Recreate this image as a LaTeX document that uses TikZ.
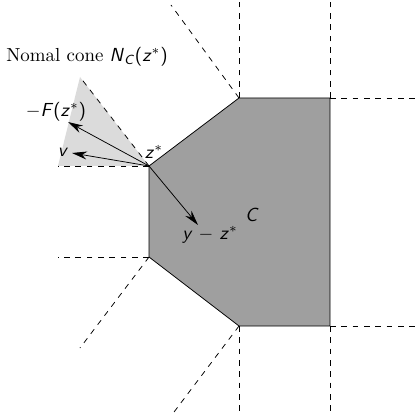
\documentclass[tikz,border=0pt]{standalone}
\usepackage{amsmath}
\usetikzlibrary{arrows.meta}
\newcommand{\sfit}[1]{\textsf{\textit{#1}}}

\begin{document}
\begin{tikzpicture}[
    x=0.0186cm, y=-0.0186cm,
    ray/.style={dashed},
    vec/.style={-{Stealth[length=2.8mm,width=1.5mm]}},
    lbl/.style={inner sep=1pt}
]
\useasboundingbox (0,0) rectangle (420,416);
% corners of C
\coordinate (zs) at (149,166);
\coordinate (tl) at (239,98);
\coordinate (tr) at (330,98);
\coordinate (br) at (330,326);
\coordinate (bl) at (239,326);
\coordinate (lb) at (149,257);
% normal cone at z*
\fill[gray!28] (zs) -- (58,166) -- (80,77) -- cycle;
\filldraw[fill=gray!75, draw=black] (zs) -- (tl) -- (tr) -- (br) -- (bl) -- (lb) -- cycle;
% normal rays
\draw[ray] (zs) -- (58,166);
\draw[ray] (zs) -- (80,77);
\draw[ray] (tl) -- (171,5);
\draw[ray] (tl) -- (239,0);
\draw[ray] (tr) -- (330,0);
\draw[ray] (tr) -- (420,98);
\draw[ray] (br) -- (420,326);
\draw[ray] (br) -- (330,416);
\draw[ray] (bl) -- (239,416);
\draw[ray] (bl) -- (171,416);
\draw[ray] (lb) -- (80,348);
\draw[ray] (lb) -- (58,257);
% vectors
\coordinate (mF) at (68,122);
\coordinate (v) at (72,153);
\coordinate (yz) at (198,225);
\draw[vec] (zs) -- (mF);
\draw[vec] (zs) -- (v);
\draw[vec] (zs) -- (yz);
% labels
\node[lbl] (cone) at (87,57) {Nomal cone \textsf{\textit{N}\textsubscript{\textit{C}}(\textit{z}$^*$)}};
\node[lbl] (mFlbl) at (56,112) {\textsf{$-$\textit{F}(\textit{z}$^*$)}};
\node[lbl] (vlbl) at (63,152) {\sfit{v}};
\node[lbl] (zslbl) at (154,152) {\sfit{z}$^*$};
\node[lbl] (yzlbl) at (210,235) {\sfit{y} $-$ \sfit{z}$^*$};
\node[lbl] (Clbl) at (252,215) {\sfit{C}};
\end{tikzpicture}
\end{document}
